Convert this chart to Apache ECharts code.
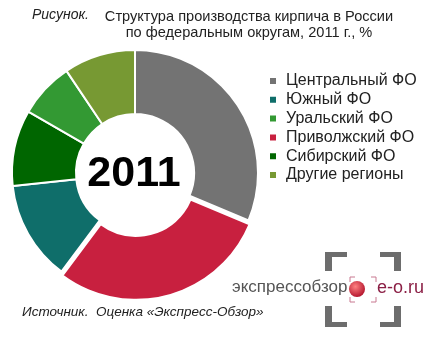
<!DOCTYPE html>
<html><head><meta charset="utf-8">
<script src="https://cdn.jsdelivr.net/npm/echarts@6/dist/echarts.min.js"></script>
<style>html,body{margin:0;padding:0;background:#fff}#c{width:441px;height:351px}</style>
</head><body><div id="c"></div>
<script>
// Pie slices in clockwise order from 12 o'clock
const regions = ['Центральный ФО', 'Приволжский ФО', 'Южный ФО', 'Сибирский ФО', 'Уральский ФО', 'Другие регионы'];
const shares = [31.3, 28.9, 13.1, 10.0, 7.3, 9.4];
const colors = ['#737373', '#c8203f', '#0f6e6a', '#006600', '#339933', '#779933'];
const legendOrder = ['Центральный ФО', 'Южный ФО', 'Уральский ФО', 'Приволжский ФО', 'Сибирский ФО', 'Другие регионы'];
const centerLabel = '2011';

const chart = echarts.init(document.getElementById('c'));
const gray = '#6d6d6d';
const font = 'Liberation Sans, Arial, sans-serif';
chart.setOption({
  animation: false,
  legend: {
    data: legendOrder,
    orient: 'vertical', left: 268, top: 73, padding: 0,
    itemWidth: 8, itemHeight: 8, itemGap: 2.8, icon: 'rect',
    selectedMode: false,
    textStyle: { fontFamily: font, fontSize: 16, lineHeight: 16, color: '#222', padding: [0,0,0,4] }
  },
  series: [{
    type: 'pie',
    center: [135, 173], radius: [59, 123],
    startAngle: 90, clockwise: true,
    selectedMode: 'single', selectedOffset: 4,
    label: { show: false }, labelLine: { show: false },
    emphasis: { disabled: true },
    itemStyle: { borderColor: '#fff', borderWidth: 2 },
    data: regions.map((n, i) => ({ name: n, value: shares[i], selected: n === 'Приволжский ФО', itemStyle: { color: colors[i] } }))
  }],
  graphic: [
    { type: 'text', left: 32, top: 8, style: { text: 'Рисунок.', font: 'italic 14px ' + font, fill: '#222' } },
    { type: 'text', x: 249, y: 9, style: { text: 'Структура производства кирпича в России\nпо федеральным округам, 2011 г., %', font: '14.6px ' + font, lineHeight: 16, fill: '#222', align: 'center' } },
    { type: 'text', x: 134, y: 174, style: { text: centerLabel, font: 'bold 43px ' + font, fill: '#000', align: 'center', verticalAlign: 'middle' } },
    { type: 'text', left: 22, top: 305, style: { text: 'Источник.  Оценка «Экспресс-Обзор»', font: 'italic 13.5px ' + font, fill: '#222' } },
    // logo brackets
    { type: 'rect', shape: { x: 325, y: 252, width: 22, height: 5 }, style: { fill: gray } },
    { type: 'rect', shape: { x: 325, y: 252, width: 7, height: 19 }, style: { fill: gray } },
    { type: 'rect', shape: { x: 380, y: 252, width: 21, height: 5 }, style: { fill: gray } },
    { type: 'rect', shape: { x: 394, y: 252, width: 7, height: 19 }, style: { fill: gray } },
    { type: 'rect', shape: { x: 325, y: 322, width: 22, height: 5 }, style: { fill: gray } },
    { type: 'rect', shape: { x: 325, y: 306, width: 7, height: 21 }, style: { fill: gray } },
    { type: 'rect', shape: { x: 380, y: 322, width: 21, height: 5 }, style: { fill: gray } },
    { type: 'rect', shape: { x: 394, y: 306, width: 7, height: 21 }, style: { fill: gray } },
    { type: 'text', left: 232, top: 279, style: { text: 'экспрессобзор', font: '17px ' + font, fill: '#555' } },
    { type: 'polyline', shape: { points: [[350,282],[350,277],[355,277]] }, style: { stroke: '#c87890', lineWidth: 1, fill: null } },
    { type: 'polyline', shape: { points: [[371,277],[376,277],[376,282]] }, style: { stroke: '#c87890', lineWidth: 1, fill: null } },
    { type: 'polyline', shape: { points: [[350,297],[350,302],[355,302]] }, style: { stroke: '#c87890', lineWidth: 1, fill: null } },
    { type: 'polyline', shape: { points: [[371,302],[376,302],[376,297]] }, style: { stroke: '#c87890', lineWidth: 1, fill: null } },
    { type: 'circle', shape: { cx: 357, cy: 289, r: 8 }, style: { fill: new echarts.graphic.RadialGradient(0.4, 0.35, 0.7, [{ offset: 0, color: '#ff8080' }, { offset: 1, color: '#b0102a' }]) } },
    { type: 'text', left: 377, top: 279, style: { text: 'e-o.ru', font: '18px ' + font, fill: '#8b1f45' } }
  ]
});
</script></body></html>
